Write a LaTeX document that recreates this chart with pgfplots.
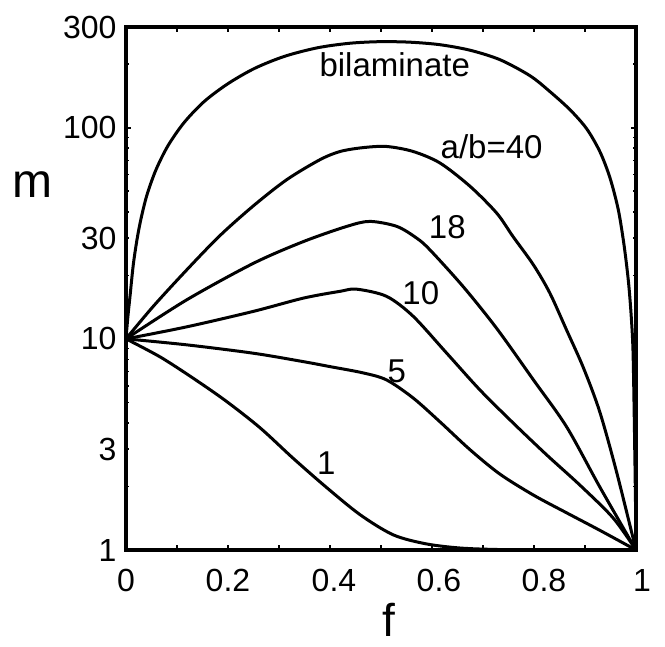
\documentclass[border=0pt]{standalone}
\usepackage{fontspec}
\setmainfont{Liberation Sans}
\usepackage{pgfplots}
\pgfplotsset{compat=1.18}

% f vs m, one table per curve
\pgfplotstableread{
f m
0 10
0.0039 12.85
0.0078 15.8
0.0143 22.4
0.0216 29.5
0.0294 37.0
0.0412 48.1
0.0588 63.2
0.0824 82.2
0.1137 105.6
0.1529 132.8
0.2 161.7
0.2529 191.4
0.3118 218.2
0.3765 239.4
0.4392 251.3
0.498 255.6
0.5569 254.2
0.6157 247.3
0.6745 232.9
0.7333 210
0.7922 176.3
0.8314 148.2
0.8706 121.7
0.9033 98.9
0.9294 76.9
0.949 57.9
0.9653 40.9
0.9765 27.9
0.9849 19.0
0.9902 13.3
0.9941 8.87
0.9967 4.13
0.9990 1.73
1 1
}\bilam
\pgfplotstableread{
f m
0 10
0.054 14.3
0.119 21.2
0.184 30.8
0.250 42.7
0.315 56.7
0.380 70.5
0.420 77.2
0.465 80.5
0.511 81.5
0.563 77.2
0.616 68
0.675 52.7
0.727 39.4
0.759 30.5
0.799 22.4
0.831 16.5
0.864 11.0
0.897 7.29
0.929 4.51
0.962 2.34
1 1
}\abforty
\pgfplotstableread{
f m
0 10
0.119 15.3
0.250 22.8
0.348 28.9
0.433 34.1
0.478 36.0
0.531 34.1
0.570 30.0
0.596 26.4
0.661 17.7
0.727 11.2
0.799 6.39
0.864 3.83
0.929 1.99
1 1
}\abeighteen
\pgfplotstableread{
f m
0 10
0.119 11.4
0.250 13.5
0.348 15.6
0.420 16.8
0.452 17.2
0.511 15.9
0.563 12.8
0.629 8.55
0.694 5.73
0.759 4.0
0.825 2.82
0.890 2.03
0.955 1.42
1 1
}\abten
\pgfplotstableread{
f m
0 10
0.119 9.37
0.250 8.55
0.348 7.8
0.400 7.39
0.465 6.9
0.511 6.39
0.563 5.25
0.616 4.04
0.675 2.98
0.733 2.29
0.799 1.82
0.864 1.50
0.929 1.24
1 1
}\abfive
\pgfplotstableread{
f m
0 10
0.0667 8.22
0.131 6.53
0.196 5.08
0.263 3.79
0.327 2.73
0.392 1.99
0.459 1.47
0.524 1.18
0.588 1.07
0.655 1.022
0.733 1.005
0.851 1.0
1 1
}\abone

\begin{document}
\begin{tikzpicture}
\begin{axis}[
  scale only axis,
  width=255pt,
  height=261.5pt,
  xmin=0, xmax=1,
  ymode=log, ymin=1, ymax=300,
  xtick={0,0.2,0.4,0.6,0.8,1},
  xticklabels={0,0.2,\hspace*{4pt}0.4,\hspace*{7pt}0.6,\hspace*{10pt}0.8,\hspace*{6pt}1},
  extra x ticks={0.1,0.3,0.5,0.7,0.9},
  extra x tick labels={},
  ytick={1,10,100},
  yticklabels={1,10,100},
  extra y ticks={3,30,300},
  extra y tick labels={3,30,300},
  extra y tick style={major tick length=1.5pt},
  minor ytick={2,4,5,6,7,8,9,20,40,50,60,70,80,90,200},
  major tick length=2.5pt,
  minor tick length=1.5pt,
  axis line style={line width=2.1pt},
  tick style={line width=0.8pt, black},
  tick label style={font=\fontsize{16}{18}\selectfont},
  xticklabel style={yshift=-6pt},
  yticklabel style={xshift=-1.2pt},
  /pgf/number format/assume math mode=true,
  clip=false,
  cycle list={{black, solid}},
  every axis plot/.append style={line width=1.5pt, smooth, no marks},
]
\addplot table[x=f, y=m] {\bilam};
\addplot table[x=f, y=m] {\abforty};
\addplot table[x=f, y=m] {\abeighteen};
\addplot table[x=f, y=m] {\abten};
\addplot table[x=f, y=m] {\abfive};
\addplot table[x=f, y=m] {\abone};

\begin{scope}[every node/.style={font=\fontsize{16.5}{18}\selectfont, inner sep=0pt}]
\node at (axis cs:0.527,197.8) {bilaminate};
\node at (axis cs:0.717,81.5) {a/b=40};
\node at (axis cs:0.630,34.0) {18};
\node at (axis cs:0.578,16.5) {10};
\node at (axis cs:0.531,7.0) {5};
\node at (axis cs:0.393,2.58) {1};
\end{scope}

\node[font=\fontsize{24}{26}\selectfont, inner sep=0pt] at (rel axis cs:-0.184,0.698) {m};
\node[font=\fontsize{23}{26}\selectfont, inner sep=0pt, anchor=base] at (rel axis cs:0.516,-0.165) {f};

\coordinate (bbsw) at (rel axis cs:-0.247,-0.1836);
\coordinate (bbne) at (rel axis cs:1.0569,1.0516);
\end{axis}
\pgfresetboundingbox
\useasboundingbox (bbsw) rectangle (bbne);
\end{tikzpicture}
\end{document}
